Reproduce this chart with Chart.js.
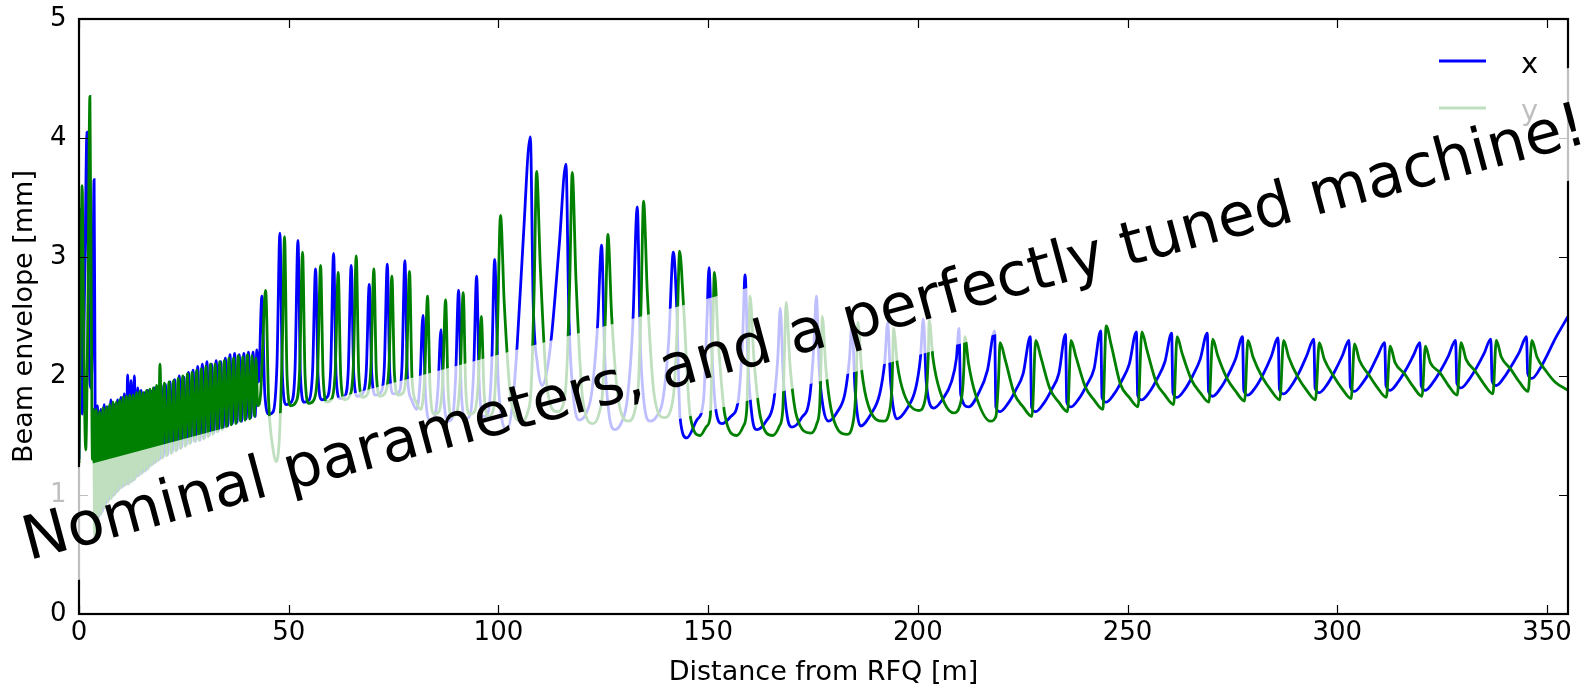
<!DOCTYPE html>
<html><head><meta charset="utf-8">
<script src="https://cdn.jsdelivr.net/npm/chart.js@4.4.1/dist/chart.umd.min.js"></script>
<style>html,body{margin:0;padding:0;background:#fff;}canvas{display:block;}</style>
</head><body>
<canvas id="c" width="1590" height="690"></canvas>
<script>
// ---------- data (distance [m], envelope [mm]) ----------
const xTicks = [0, 50, 100, 150, 200, 250, 300, 350];
const yTicks = [0, 1, 2, 3, 4, 5];
const legendLabels = ['x', 'y'];
const overlayText = 'Nominal parameters, and a perfectly tuned machine!';

// series "x" (blue)
const xRfq = [[0.0,1.30],[0.35,3.40],[0.8,1.68],[1.4,2.90],[1.9,4.05],[2.35,2.30],[2.8,1.90],[3.2,2.30],[3.6,3.65],[3.85,1.72],[4.05,0.75]];
const xDense = [[4.4,1.75],[4.8,0.82],[5.2,1.72],[5.6,0.86],[6.0,1.76],[6.4,0.92],[6.8,1.74],[7.2,0.96],[7.6,1.80],[8.0,0.99],[8.4,1.76],[8.8,1.02],[9.2,1.80],[9.6,1.05],[10.0,1.82],[10.4,1.07],[10.8,1.85],[11.2,1.09],[11.6,2.01],[12.0,1.10],[12.4,1.96],[12.8,1.12],[13.2,2.00],[13.6,1.15],[14.0,1.90],[14.4,1.17],[14.8,1.88],[15.2,1.19],[15.6,1.86],[16.0,1.21],[16.4,1.88],[16.8,1.24],[17.2,1.87],[17.6,1.26],[18.0,1.90],[18.4,1.28],[18.8,1.89],[19.2,1.30],[19.6,1.92],[20.1,1.32],[20.6,1.93],[21.15,1.34],[21.7,1.95],[22.25,1.36],[22.8,1.97],[23.35,1.38],[23.9,2.00],[24.45,1.40],[25.0,1.99],[25.55,1.42],[26.1,2.03],[26.65,1.44],[27.2,2.05],[27.75,1.45],[28.3,2.08],[28.85,1.46],[29.4,2.10],[29.95,1.48],[30.5,2.12],[31.05,1.50],[31.6,2.10],[32.15,1.52],[32.7,2.13],[33.25,1.54],[33.8,2.12],[34.35,1.56],[34.9,2.15],[35.45,1.58],[36.0,2.18],[36.55,1.60],[37.1,2.19],[37.65,1.61],[38.2,2.18],[38.75,1.62],[39.3,2.19],[39.85,1.64],[40.4,2.20],[40.95,1.65],[41.5,2.20],[42.0,1.66],[42.4,2.22],[42.8,1.95]];
const xMid = [[43.6,2.67],[44.3,1.85],[45.3,1.68],[46.3,1.70],[47.2,2.10],[47.9,3.20],[48.5,2.00],[49.4,1.76],[50.6,1.78],[51.5,2.05],[52.2,3.14],[52.8,2.00],[53.7,1.78],[54.9,1.80],[55.7,2.05],[56.4,2.90],[57.0,2.00],[57.9,1.80],[59.1,1.82],[60.0,2.05],[60.7,3.03],[61.3,2.00],[62.2,1.81],[63.4,1.83],[64.2,2.05],[64.9,2.93],[65.5,2.02],[66.4,1.83],[67.6,1.85],[68.5,2.05],[69.2,2.77],[69.8,2.02],[70.7,1.84],[71.9,1.86],[72.8,2.08],[73.5,2.94],[74.1,2.02],[75.0,1.85],[76.2,1.86],[77.0,2.08],[77.7,2.97],[78.3,2.00],[79.3,1.80],[80.5,1.72],[81.3,1.95],[82.0,2.51],[82.6,1.85],[83.7,1.63],[84.8,1.66],[85.6,1.90],[86.3,2.39],[86.9,1.85],[88.0,1.62],[89.1,1.66],[89.8,2.00],[90.5,2.72],[91.1,1.90],[92.2,1.64],[93.3,1.68],[94.1,2.05],[94.8,2.84],[95.4,1.95],[96.5,1.66],[97.6,1.70],[98.4,2.10],[99.1,2.98]];
const xLong = [[99.9,2.00],[100.9,1.62],[102.1,1.55],[103.3,1.75],[104.4,2.22],[105.9,3.14],[107.6,4.01],[108.3,2.60],[109.3,2.10],[110.4,1.92],[111.6,2.05],[112.7,2.35],[114.5,3.10],[116.1,3.78],[116.8,2.50],[117.8,1.85],[119.3,1.63],[120.8,1.68],[122.2,1.85],[123.6,2.40],[124.6,3.10],[125.3,2.20],[126.3,1.70],[127.7,1.55],[129.2,1.60],[130.7,1.80],[132.0,2.40],[133.1,3.42],[133.8,2.30],[134.8,1.75],[136.2,1.62],[137.7,1.66],[139.2,1.80],[140.6,2.30],[141.7,3.04],[142.5,2.58],[143.3,1.65],[144.9,1.48],[147.3,1.63],[148.9,1.80],[149.7,2.46],[150.2,2.91],[150.9,2.20],[151.9,1.70],[153.3,1.60],[155.4,1.66],[157.2,1.80],[158.2,2.30],[158.8,2.85],[159.5,2.10],[160.5,1.65],[161.6,1.55],[163.8,1.62],[165.6,1.78],[166.6,2.15],[167.2,2.57],[167.9,2.00],[168.9,1.65],[170.0,1.57],[172.3,1.65],[174.2,1.82],[175.2,2.25],[175.8,2.67],[176.5,2.05],[177.5,1.72],[178.7,1.62],[180.8,1.70],[182.6,1.85],[183.7,2.15],[184.3,2.45],[185.0,1.90],[186.3,1.58],[188.8,1.68],[190.9,1.85],[192.1,2.12],[192.8,2.45],[193.5,1.95],[195.0,1.64],[197.3,1.72],[199.5,1.90],[200.6,2.15],[201.3,2.48],[202.0,1.95],[203.8,1.73],[205.8,1.80],[208.0,1.95],[209.2,2.15],[209.8,2.40],[210.2,1.85],[212.1,1.74],[214.4,1.85],[216.6,2.05],[218.3,2.38]];
const xTail = [[218.6,1.74],[219.6,1.70],[221.5,1.77],[223.3,1.88],[225.1,2.02],[226.8,2.33],[227.1,1.74],[228.1,1.70],[230.0,1.77],[231.8,1.88],[233.6,2.02],[235.2,2.35],[235.5,1.78],[236.5,1.74],[238.4,1.81],[240.2,1.92],[242.0,2.06],[243.6,2.38],[243.9,1.82],[244.9,1.78],[246.8,1.85],[248.6,1.96],[250.4,2.10],[252.1,2.37],[252.4,1.84],[253.4,1.80],[255.3,1.87],[257.1,1.98],[258.9,2.12],[260.5,2.36],[260.8,1.86],[261.8,1.82],[263.7,1.89],[265.5,2.00],[267.3,2.14],[269.0,2.36],[269.3,1.87],[270.3,1.83],[272.2,1.90],[274.0,2.01],[275.8,2.15],[277.4,2.33],[277.7,1.88],[278.7,1.84],[280.6,1.91],[282.4,2.02],[284.2,2.16],[285.9,2.32],[286.2,1.89],[287.2,1.85],[289.1,1.92],[290.9,2.03],[292.7,2.17],[294.4,2.31],[294.7,1.90],[295.7,1.86],[297.6,1.93],[299.4,2.04],[301.2,2.17],[302.8,2.30],[303.1,1.91],[304.1,1.87],[306.0,1.94],[307.8,2.04],[309.6,2.17],[311.3,2.28],[311.6,1.92],[312.6,1.88],[314.5,1.95],[316.3,2.05],[318.1,2.17],[319.7,2.28],[320.0,1.92],[321.0,1.88],[322.9,1.95],[324.7,2.05],[326.5,2.17],[328.2,2.30],[328.5,1.94],[329.5,1.90],[331.4,1.97],[333.2,2.07],[335.0,2.19],[336.6,2.31],[336.9,1.96],[337.9,1.92],[339.8,1.99],[341.6,2.09],[343.4,2.20],[345.1,2.33],[345.4,2.02],[346.4,1.98],[348.3,2.06],[350.1,2.18],[351.9,2.31],[355.0,2.50]];

// series "y" (green)
const yRfq = [[0.0,1.27],[0.3,2.20],[0.75,3.60],[1.1,2.40],[1.6,1.38],[2.1,2.50],[2.6,4.35],[2.95,2.40],[3.2,1.30],[3.45,1.72],[3.75,0.65]];
const yDense = [[4.1,1.72],[4.5,0.78],[4.9,1.70],[5.3,0.84],[5.7,1.73],[6.1,0.89],[6.5,1.74],[6.9,0.94],[7.3,1.76],[7.7,0.97],[8.1,1.78],[8.5,1.00],[8.9,1.78],[9.3,1.03],[9.7,1.80],[10.1,1.06],[10.5,1.82],[10.9,1.08],[11.3,1.83],[11.7,1.09],[12.1,1.84],[12.5,1.11],[12.9,1.84],[13.3,1.13],[13.7,1.86],[14.1,1.16],[14.5,1.87],[14.9,1.18],[15.3,1.86],[15.7,1.20],[16.1,1.88],[16.5,1.22],[16.9,1.89],[17.3,1.25],[17.7,1.90],[18.1,1.27],[18.5,1.92],[18.9,1.29],[19.3,2.10],[19.8,1.31],[20.35,1.94],[20.9,1.33],[21.45,1.95],[22.0,1.35],[22.55,1.96],[23.1,1.37],[23.65,1.98],[24.2,1.39],[24.75,2.00],[25.3,1.41],[25.85,2.02],[26.4,1.43],[26.95,2.03],[27.5,1.45],[28.05,2.05],[28.6,1.46],[29.15,2.06],[29.7,1.47],[30.25,2.08],[30.8,1.49],[31.35,2.10],[31.9,1.51],[32.45,2.10],[33.0,1.53],[33.55,2.12],[34.1,1.55],[34.65,2.13],[35.2,1.57],[35.75,2.15],[36.3,1.59],[36.85,2.15],[37.4,1.60],[37.95,2.17],[38.5,1.62],[39.05,2.16],[39.6,1.63],[40.15,2.18],[40.7,1.64],[41.25,2.17],[41.8,1.66],[42.2,2.15],[42.6,1.75]];
const yMid = [[43.3,1.85],[44.5,2.72],[45.2,1.80],[46.2,1.40],[47.0,1.28],[47.8,1.50],[48.5,2.30],[49.0,3.17],[49.6,2.00],[50.5,1.75],[51.7,1.78],[52.6,2.05],[53.3,3.04],[53.9,2.00],[54.8,1.77],[56.0,1.80],[56.9,2.05],[57.6,2.93],[58.2,2.00],[59.1,1.78],[60.3,1.81],[61.1,2.05],[61.8,2.87],[62.4,2.00],[63.3,1.80],[64.5,1.83],[65.4,2.08],[66.1,3.01],[66.7,2.02],[67.6,1.82],[68.8,1.85],[69.6,2.08],[70.3,2.90],[70.9,2.02],[71.8,1.83],[73.0,1.86],[73.9,2.08],[74.6,2.84],[75.2,2.02],[76.1,1.84],[77.3,1.86],[78.1,2.08],[78.8,2.88],[79.4,1.98],[80.4,1.78],[81.5,1.72],[82.4,1.98],[83.1,2.67],[83.7,1.90],[84.7,1.68],[85.8,1.70],[86.7,1.95],[87.4,2.64],[88.0,1.88],[88.9,1.66],[90.1,1.70],[90.9,2.00],[91.6,2.70],[92.2,1.90],[93.1,1.68],[94.3,1.70],[95.2,1.95],[95.9,2.50],[96.6,1.85],[97.6,1.66],[98.8,1.72],[99.7,2.30],[100.5,3.35]];
const yLong = [[101.4,2.60],[103.0,1.80],[105.4,1.62],[107.0,1.70],[107.8,1.90],[108.5,2.70],[109.1,3.72],[110.0,2.90],[111.6,1.90],[114.0,1.70],[115.6,1.78],[116.3,2.05],[117.0,2.80],[117.6,3.71],[118.5,2.80],[120.1,1.80],[122.5,1.60],[124.1,1.70],[124.9,1.90],[125.5,2.50],[126.1,3.19],[127.0,2.50],[128.6,1.80],[131.0,1.62],[132.6,1.72],[133.4,1.95],[134.0,2.60],[134.6,3.47],[135.5,2.70],[137.1,1.85],[139.5,1.65],[141.1,1.72],[141.9,1.90],[142.6,2.40],[143.2,3.05],[144.1,2.61],[145.7,1.67],[148.1,1.50],[149.7,1.58],[150.5,1.66],[151.1,2.40],[151.5,2.87],[152.4,2.30],[154.0,1.67],[156.8,1.50],[158.4,1.58],[159.2,1.72],[159.6,2.20],[160.0,2.67],[160.9,2.15],[162.5,1.65],[165.4,1.50],[167.0,1.58],[167.8,1.72],[168.2,2.20],[168.6,2.62],[169.5,2.10],[171.1,1.66],[174.5,1.52],[175.9,1.60],[176.6,1.75],[176.9,2.10],[177.2,2.50],[178.1,2.05],[179.7,1.66],[183.1,1.51],[184.5,1.60],[185.1,1.80],[185.4,2.10],[185.7,2.45],[186.6,2.05],[188.2,1.75],[191.8,1.62],[193.2,1.70],[193.8,1.90],[194.0,2.15],[194.2,2.40],[195.1,2.10],[196.7,1.85],[200.2,1.71],[201.6,1.78],[202.2,1.95],[202.5,2.20],[202.7,2.47],[203.6,2.15],[205.2,1.88],[208.5,1.69],[210.0,1.75],[210.7,1.90],[211.0,2.10],[211.2,2.33],[212.1,2.10],[213.7,1.85],[217.3,1.62],[218.6,1.66],[219.2,1.95],[219.6,2.28]];
const yTail = [[220.8,2.14],[223.0,1.85],[225.1,1.74],[227.2,1.66],[228.1,2.30],[229.3,2.16],[231.5,1.89],[233.6,1.78],[235.7,1.70],[236.5,2.30],[237.7,2.16],[239.9,1.91],[242.0,1.80],[244.1,1.72],[244.9,2.42],[246.1,2.26],[248.3,1.93],[250.4,1.82],[252.5,1.74],[253.4,2.37],[254.6,2.22],[256.8,1.95],[258.9,1.84],[261.0,1.76],[261.8,2.33],[263.0,2.19],[265.2,1.97],[267.3,1.86],[269.4,1.78],[270.3,2.31],[271.5,2.17],[273.7,1.98],[275.8,1.87],[277.9,1.79],[278.7,2.30],[279.9,2.16],[282.1,1.99],[284.2,1.88],[286.3,1.80],[287.2,2.30],[288.4,2.16],[290.6,1.99],[292.7,1.88],[294.8,1.80],[295.7,2.28],[296.9,2.14],[299.1,2.00],[301.2,1.89],[303.3,1.81],[304.1,2.27],[305.3,2.13],[307.5,2.01],[309.6,1.90],[311.7,1.82],[312.6,2.25],[313.8,2.11],[316.0,2.02],[318.1,1.91],[320.2,1.83],[321.0,2.25],[322.2,2.11],[324.4,2.03],[326.5,1.92],[328.6,1.84],[329.5,2.28],[330.7,2.14],[332.9,2.04],[335.0,1.93],[337.1,1.85],[337.9,2.30],[339.1,2.16],[341.3,2.06],[343.4,1.95],[345.5,1.87],[346.4,2.30],[347.6,2.16],[349.8,2.04],[351.9,1.95],[355.0,1.88]];

// ---------- build ----------
const toPts = arr => arr.map(([d, v]) => ({x: d, y: v}));
const seriesX = toPts([].concat(xRfq, xDense, xMid, xLong, xTail));
const seriesY = toPts([].concat(yRfq, yDense, yMid, yLong, yTail));

const FONT = '"DejaVu Sans", sans-serif';
const BLUE = '#0000ff', GREEN = '#008000';

const decor = {
  id: 'decor',
  afterDatasetsDraw(chart) {
    const {ctx, chartArea: a, scales: {x, y}} = chart;
    ctx.save();
    ctx.strokeStyle = '#000';
    ctx.lineWidth = 1.2;
    ctx.beginPath();
    xTicks.forEach(v => {
      const px = Math.round(x.getPixelForValue(v)) + 0.5;
      ctx.moveTo(px, a.bottom); ctx.lineTo(px, a.bottom - 9);
      ctx.moveTo(px, a.top); ctx.lineTo(px, a.top + 9);
    });
    yTicks.forEach(v => {
      const py = Math.round(y.getPixelForValue(v)) + 0.5;
      ctx.moveTo(a.left, py); ctx.lineTo(a.left + 9, py);
      ctx.moveTo(a.right, py); ctx.lineTo(a.right - 9, py);
    });
    ctx.stroke();
    ctx.lineWidth = 2.2;
    ctx.strokeRect(a.left, a.top, a.right - a.left, a.bottom - a.top);
    const colors = [BLUE, GREEN];
    ctx.font = '29px ' + FONT;
    ctx.textAlign = 'left';
    ctx.textBaseline = 'alphabetic';
    legendLabels.forEach((lab, i) => {
      const ly = a.top + 42 + i * 47;
      ctx.strokeStyle = colors[i];
      ctx.lineWidth = 2.8;
      ctx.beginPath();
      ctx.moveTo(a.right - 129, ly); ctx.lineTo(a.right - 82, ly);
      ctx.stroke();
      ctx.fillStyle = '#000';
      ctx.fillText(lab, a.right - 47, ly + 12);
    });
    ctx.restore();
  },
  afterDraw(chart) {
    const {ctx, chartArea: a} = chart;
    const ang = -15 * Math.PI / 180;
    const fs = 60.5;
    ctx.save();
    ctx.translate(a.left, a.top + 448);
    ctx.rotate(ang);
    ctx.font = fs + 'px ' + FONT;
    const m = ctx.measureText(overlayText);
    const u0 = -67.7 + (m.actualBoundingBoxLeft || 0);
    const pad = 0.3 * fs;
    ctx.fillStyle = 'rgba(255,255,255,0.75)';
    ctx.fillRect(u0 - pad, 0, m.width + 2 * pad, 109);
    ctx.fillStyle = '#000';
    ctx.textBaseline = 'alphabetic';
    ctx.textAlign = 'left';
    ctx.fillText(overlayText, u0, 77);
    ctx.restore();
  }
};

new Chart(document.getElementById('c').getContext('2d'), {
  type: 'line',
  data: {
    datasets: [
      {label: legendLabels[0], data: seriesX, borderColor: BLUE, borderWidth: 2.8, pointRadius: 0, fill: false, cubicInterpolationMode: 'monotone', order: 2},
      {label: legendLabels[1], data: seriesY, borderColor: GREEN, borderWidth: 2.8, pointRadius: 0, fill: false, cubicInterpolationMode: 'monotone', order: 1}
    ]
  },
  options: {
    responsive: false,
    animation: false,
    events: [],
    layout: {padding: {left: 0, right: 22, top: 19, bottom: 0}},
    plugins: {legend: {display: false}, tooltip: {enabled: false}},
    scales: {
      x: {
        type: 'linear', min: 0, max: 355,
        afterBuildTicks: s => { s.ticks = xTicks.map(v => ({value: v})); },
        afterFit: s => { s.height = 76; },
        grid: {display: false, drawTicks: false},
        border: {display: false},
        ticks: {font: {family: FONT, size: 26}, color: '#000', padding: 4, maxRotation: 0, autoSkip: false},
        title: {display: true, text: 'Distance from RFQ [m]', font: {family: FONT, size: 27}, color: '#000', padding: {top: 0, bottom: 1}}
      },
      y: {
        type: 'linear', min: 0, max: 5,
        afterBuildTicks: s => { s.ticks = yTicks.map(v => ({value: v})); },
        afterFit: s => { s.width = 79; s.paddingTop = 0; s.paddingBottom = 0; },
        grid: {display: false, drawTicks: false},
        border: {display: false},
        ticks: {font: {family: FONT, size: 26, lineHeight: 0.4}, color: '#000', padding: 12.5, autoSkip: false},
        title: {display: true, text: 'Beam envelope [mm]', font: {family: FONT, size: 27}, color: '#000', padding: {top: 9, bottom: 0}}
      }
    }
  },
  plugins: [decor]
});
</script>
</body></html>
